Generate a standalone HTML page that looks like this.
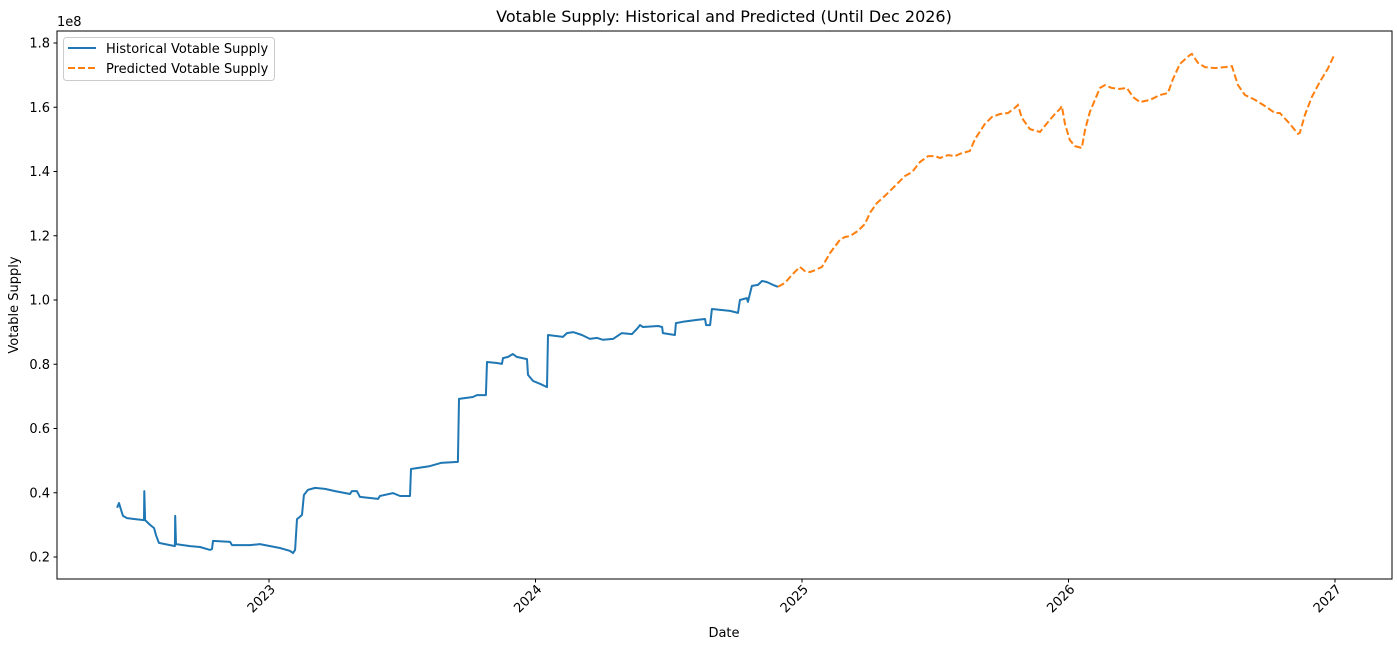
<!DOCTYPE html>
<html><head><meta charset="utf-8"><style>
body{margin:0;background:#fff;}
svg text{font-family:"DejaVu Sans","Liberation Sans",sans-serif;fill:#000;}
</style></head><body>
<svg id="chart" width="1397" height="648" viewBox="0 0 1397 648" xmlns="http://www.w3.org/2000/svg">
<rect x="0" y="0" width="1397" height="648" fill="#fff"/>
<text x="724" y="22" font-size="16" text-anchor="middle">Votable Supply: Historical and Predicted (Until Dec 2026)</text>
<text x="57" y="26" font-size="13">1e8</text>
<text x="724" y="637" font-size="13" text-anchor="middle">Date</text>
<text x="0" y="0" font-size="13" text-anchor="middle" transform="translate(18,305) rotate(-90)">Votable Supply</text>
<g id="plot"></g>
<rect x="57" y="31" width="1335" height="548" fill="none" stroke="#000" stroke-width="1"/>
<g>
<rect x="63.5" y="37.5" width="211" height="43" rx="3" fill="#fff" fill-opacity="0.8" stroke="#ccc"/>
<line x1="68" y1="48" x2="96" y2="48" stroke="#1f77b4" stroke-width="2"/>
<text x="106" y="53" font-size="13">Historical Votable Supply</text>
<line x1="68" y1="68" x2="96" y2="68" stroke="#ff7f0e" stroke-width="2" stroke-dasharray="7,3"/>
<text x="106" y="73" font-size="13">Predicted Votable Supply</text>
</g>
</svg>
<script>
const histDates=[2022.430,2022.437,2022.445,2022.452,2022.467,2022.497,2022.531,2022.532,2022.535,2022.554,2022.569,2022.576,2022.587,2022.610,2022.647,2022.648,2022.651,2022.704,2022.741,2022.779,2022.786,2022.790,2022.854,2022.861,2022.929,2022.966,2023.041,2023.079,2023.090,2023.098,2023.105,2023.116,2023.124,2023.131,2023.146,2023.173,2023.210,2023.248,2023.304,2023.311,2023.330,2023.341,2023.409,2023.416,2023.465,2023.492,2023.529,2023.533,2023.604,2023.645,2023.709,2023.713,2023.765,2023.780,2023.814,2023.818,2023.855,2023.874,2023.878,2023.897,2023.915,2023.930,2023.968,2023.972,2023.991,2024.017,2024.043,2024.047,2024.103,2024.118,2024.141,2024.174,2024.204,2024.231,2024.253,2024.291,2024.324,2024.362,2024.384,2024.392,2024.403,2024.460,2024.475,2024.478,2024.523,2024.527,2024.553,2024.606,2024.636,2024.640,2024.655,2024.662,2024.730,2024.760,2024.767,2024.793,2024.797,2024.812,2024.835,2024.850,2024.868,2024.891,2024.910];
const histValues=[0.353,0.368,0.346,0.328,0.321,0.318,0.315,0.405,0.315,0.300,0.290,0.268,0.244,0.240,0.234,0.328,0.240,0.234,0.231,0.222,0.225,0.250,0.247,0.237,0.237,0.240,0.228,0.219,0.212,0.222,0.318,0.325,0.331,0.393,0.409,0.415,0.412,0.405,0.396,0.405,0.405,0.387,0.381,0.390,0.399,0.390,0.390,0.474,0.483,0.493,0.496,0.692,0.698,0.704,0.704,0.807,0.804,0.801,0.819,0.823,0.832,0.823,0.816,0.767,0.748,0.739,0.729,0.891,0.885,0.897,0.900,0.891,0.879,0.882,0.876,0.879,0.897,0.894,0.913,0.922,0.916,0.919,0.916,0.897,0.891,0.928,0.932,0.938,0.941,0.922,0.922,0.972,0.966,0.960,1.000,1.006,0.994,1.044,1.047,1.059,1.056,1.047,1.041];
const predDates=[2024.910,2024.936,2024.962,2024.992,2025.011,2025.030,2025.049,2025.075,2025.105,2025.142,2025.161,2025.180,2025.210,2025.236,2025.255,2025.281,2025.311,2025.349,2025.386,2025.413,2025.443,2025.473,2025.499,2025.518,2025.548,2025.574,2025.593,2025.630,2025.649,2025.686,2025.713,2025.743,2025.773,2025.799,2025.810,2025.825,2025.855,2025.893,2025.923,2025.949,2025.968,2025.975,2025.987,2026.005,2026.024,2026.050,2026.062,2026.080,2026.099,2026.118,2026.137,2026.163,2026.193,2026.219,2026.242,2026.268,2026.306,2026.343,2026.373,2026.392,2026.418,2026.456,2026.463,2026.486,2026.512,2026.549,2026.587,2026.613,2026.636,2026.662,2026.700,2026.737,2026.775,2026.793,2026.831,2026.861,2026.868,2026.887,2026.913,2026.943,2026.973,2026.996];
const predValues=[1.041,1.053,1.078,1.103,1.090,1.087,1.093,1.103,1.146,1.187,1.196,1.199,1.215,1.237,1.271,1.302,1.324,1.355,1.386,1.398,1.430,1.448,1.448,1.442,1.451,1.448,1.455,1.464,1.501,1.548,1.570,1.579,1.582,1.598,1.607,1.567,1.532,1.523,1.554,1.579,1.595,1.604,1.548,1.498,1.479,1.473,1.529,1.585,1.623,1.660,1.669,1.660,1.657,1.660,1.632,1.616,1.623,1.638,1.644,1.688,1.735,1.763,1.766,1.738,1.725,1.722,1.725,1.728,1.669,1.638,1.623,1.604,1.582,1.582,1.548,1.517,1.520,1.576,1.632,1.679,1.720,1.760];
const xTicks=[2023,2024,2025,2026,2027];
const yTicks=[0.2,0.4,0.6,0.8,1.0,1.2,1.4,1.6,1.8];
const NS='http://www.w3.org/2000/svg';
function xS(d){return 269+(d-2023)*266.5;}
function yS(v){return 557-(v-0.2)*321.25;}
const g=document.getElementById('plot');
function mk(t,a){const e=document.createElementNS(NS,t);for(const k in a)e.setAttribute(k,a[k]);g.appendChild(e);return e;}
yTicks.forEach(v=>{
  const y=yS(v);
  const l=mk('line',{x1:53.5,x2:57,y1:y,y2:y,stroke:'#000'});
  
  
  const t=mk('text',{x:50,y:y+4.5,'font-size':13,'text-anchor':'end'});
  t.textContent=v.toFixed(1);
  
  
});
xTicks.forEach(d=>{
  const x=xS(d);
  const l=mk('line',{x1:x,x2:x,y1:579,y2:582.5,stroke:'#000'});
  
  
  const t=mk('text',{x:0,y:0,'font-size':13,'text-anchor':'end',transform:`translate(${x+7},${590}) rotate(-45)`});
  t.textContent=String(d);
  
  
});
function path(ds,vs){return ds.map((d,i)=>(i?'L':'M')+xS(d).toFixed(1)+','+yS(vs[i]).toFixed(1)).join('');}
const h=mk('path',{d:path(histDates,histValues),fill:'none',stroke:'#1f77b4','stroke-width':2,'stroke-linejoin':'round'});


const p=mk('path',{d:path(predDates,predValues),fill:'none',stroke:'#ff7f0e','stroke-width':2,'stroke-dasharray':'7,3'});


</script>
</body></html>
